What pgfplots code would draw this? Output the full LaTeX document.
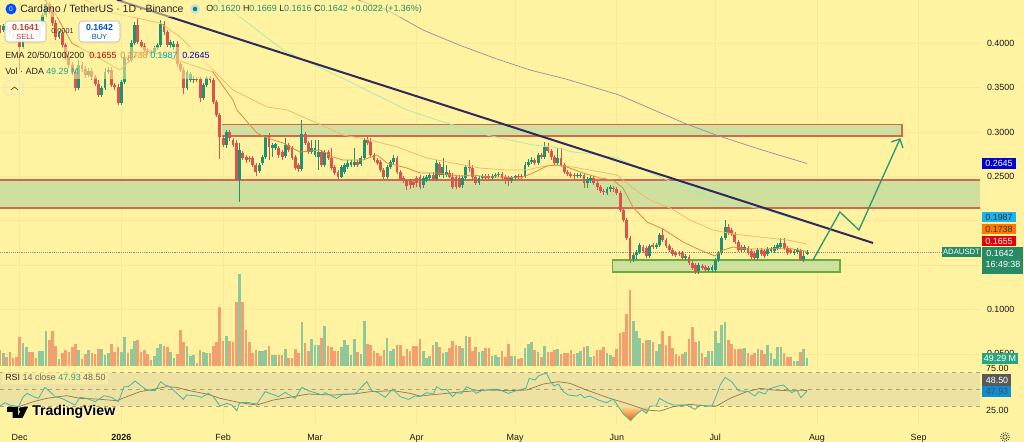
\documentclass[border=0pt]{standalone}
\usepackage{pgfplots}
\usepackage{pgfplotstable}
\usepackage{fontspec}
\setmainfont{Liberation Sans}
\pgfplotsset{compat=1.18}
\definecolor{bg}{HTML}{FFF2A0}
\definecolor{gridc}{HTML}{F6E99A}
\definecolor{zone}{HTML}{CFE09E}
\definecolor{zline}{HTML}{CF6A50}
\definecolor{boxg}{HTML}{63AE3C}
\definecolor{upc}{HTML}{1E9272}
\definecolor{dnc}{HTML}{D9544A}
\definecolor{upv}{HTML}{8FC89A}
\definecolor{dnv}{HTML}{F2A070}
\definecolor{ema1}{HTML}{E38A3C}
\definecolor{ema2}{HTML}{F0B868}
\definecolor{ema3}{HTML}{A8E8B8}
\definecolor{ema4}{HTML}{9A90A0}
\definecolor{trend}{HTML}{2E2A5E}
\definecolor{arrowc}{HTML}{2C9A70}
\definecolor{rsiband}{HTML}{EEE2A2}
\definecolor{rsidash}{HTML}{ACA27A}
\definecolor{rsil}{HTML}{45B8A0}
\definecolor{rsim}{HTML}{98784E}
\definecolor{tick}{HTML}{1A1A1A}
\newcommand\fa{\fontsize{6.7pt}{7.5pt}\selectfont}
\newcommand\fb{\fontsize{7.9pt}{9pt}\selectfont}
\pgfplotstableread{
d o h l c v
-6 .4173 .4207 .4117 .4151 103
-5 .4151 .4218 .4128 .4196 86
-4 .4196 .4218 .4128 .4151 60
-3 .4151 .4173 .4072 .4106 92
-2 .4106 .4128 .4038 .4072 49
-1 .4072 .4094 .4016 .4038 56
0 .4038 .4061 .3700 .3959 184
1 .3959 .4083 .3937 .4061 146
2 .4061 .4173 .4038 .4151 120
3 .4151 .4173 .4083 .4117 92
4 .4117 .4151 .4061 .4094 92
5 .4094 .4117 .4038 .4072 49
6 .4072 .4230 .4049 .4207 96
7 .4207 .4342 .4185 .4320 96
8 .4320 .4478 .4297 .4444 225
9 .4444 .4466 .4331 .4376 167
10 .4376 .4399 .4196 .4230 225
11 .4230 .4264 .4038 .4072 128
12 .4072 .4140 .4049 .4117 43
13 .4117 .4151 .3948 .3982 81
14 .3982 .4004 .3813 .3846 103
15 .3846 .3869 .3722 .3756 92
16 .3756 .3790 .3643 .3677 124
17 .3677 .3711 .3463 .3497 139
18 .3497 .3813 .3474 .3756 103
19 .3756 .3790 .3677 .3711 47
20 .3711 .3745 .3610 .3643 77
21 .3643 .3722 .3621 .3688 103
22 .3688 .3722 .3587 .3621 81
23 .3621 .3643 .3519 .3542 77
24 .3542 .3587 .3395 .3418 107
25 .3418 .3519 .3395 .3497 107
26 .3497 .3722 .3474 .3677 71
27 .3677 .3734 .3655 .3700 81
28 .3700 .3734 .3508 .3531 139
29 .3531 .3553 .3474 .3508 92
30 .3508 .3542 .3305 .3328 120
31 .3328 .3587 .3305 .3565 92
32 .3565 .3869 .3542 .3835 188
33 .3835 .3869 .3779 .3813 81
34 .3813 .4038 .3790 .4004 107
35 .4004 .4241 .3982 .4207 163
36 .4207 .4286 .3993 .4016 167
37 .4016 .4038 .3948 .3970 88
38 .3970 .4004 .3903 .3925 103
39 .3925 .3948 .3869 .3903 77
40 .3903 .3925 .3869 .3891 39
41 .3891 .3970 .3869 .3948 64
42 .3948 .4004 .3925 .3982 118
43 .3982 .4264 .3959 .4218 141
44 .4218 .4252 .4094 .4128 131
45 .4128 .4151 .3959 .3982 124
46 .3982 .4038 .3948 .4016 92
47 .3959 .4027 .3925 .3993 49
48 .3993 .4027 .3734 .3767 77
49 .3767 .3790 .3677 .3700 231
50 .3700 .3734 .3429 .3497 156
51 .3497 .3700 .3474 .3677 128
52 .3587 .3677 .3565 .3655 64
53 .3587 .3632 .3553 .3598 71
54 .3598 .3621 .3565 .3587 21
55 .3598 .3621 .3339 .3384 103
56 .3384 .3553 .3362 .3531 88
57 .3531 .3632 .3508 .3610 86
58 .3610 .3632 .3553 .3587 81
59 .3587 .3610 .3316 .3339 128
60 .3339 .3362 .3170 .3192 156
61 .3192 .3215 .2696 .2944 381
62 .2933 .2956 .2832 .2854 163
63 .2854 .3023 .2820 .3001 193
64 .3001 .3023 .2899 .2933 158
65 .2911 .2933 .2832 .2854 152
66 .2877 .2911 .2448 .2460 409
67 .2460 .2877 .2212 .2798 591
68 .2764 .2787 .2685 .2708 411
69 .2719 .2742 .2651 .2685 231
70 .2708 .2730 .2663 .2696 156
71 .2708 .2730 .2606 .2629 86
72 .2629 .2651 .2505 .2550 103
73 .2561 .2651 .2539 .2629 98
74 .2651 .2742 .2629 .2719 98
75 .2719 .2967 .2696 .2944 103
76 .2956 .2990 .2685 .2832 128
77 .2820 .2877 .2719 .2854 71
78 .2820 .2877 .2798 .2866 71
79 .2820 .2843 .2708 .2742 73
80 .2775 .2798 .2685 .2719 71
81 .2730 .2933 .2708 .2854 111
82 .2854 .2877 .2775 .2798 49
83 .2820 .2843 .2685 .2708 49
84 .2719 .2742 .2572 .2595 111
85 .2629 .2651 .2550 .2584 86
86 .2584 .3136 .2561 .2978 285
87 .2978 .3001 .2854 .2877 146
88 .2877 .2899 .2753 .2775 94
89 .2775 .2911 .2753 .2820 171
90 .2742 .2911 .2719 .2820 135
91 .2719 .2911 .2572 .2775 135
92 .2775 .2798 .2606 .2629 178
93 .2629 .2798 .2606 .2775 259
94 .2775 .2798 .2685 .2708 128
95 .2708 .2820 .2572 .2595 120
96 .2606 .2629 .2516 .2539 96
97 .2550 .2572 .2471 .2494 96
98 .2494 .2629 .2482 .2606 120
99 .2550 .2651 .2527 .2629 167
100 .2606 .2685 .2584 .2651 135
101 .2629 .2685 .2606 .2663 71
102 .2629 .2820 .2606 .2663 171
103 .2663 .2685 .2606 .2629 88
104 .2640 .2730 .2618 .2708 75
105 .2708 .2933 .2685 .2911 291
106 .2911 .2944 .2854 .2877 141
107 .2888 .2933 .2719 .2742 135
108 .2742 .2764 .2663 .2685 96
109 .2685 .2708 .2629 .2651 81
110 .2663 .2685 .2550 .2572 64
111 .2572 .2595 .2471 .2494 103
112 .2494 .2629 .2471 .2606 178
113 .2606 .2685 .2584 .2663 96
114 .2663 .2742 .2640 .2708 107
115 .2708 .2730 .2527 .2550 133
116 .2550 .2572 .2448 .2471 133
117 .2482 .2505 .2426 .2448 64
118 .2448 .2471 .2347 .2392 111
119 .2448 .2471 .2358 .2403 98
120 .2437 .2460 .2369 .2403 128
121 .2482 .2505 .2381 .2426 128
122 .2494 .2516 .2358 .2381 171
123 .2403 .2505 .2369 .2482 96
124 .2460 .2516 .2437 .2494 49
125 .2482 .2539 .2460 .2516 64
126 .2516 .2550 .2448 .2471 135
127 .2471 .2685 .2448 .2651 152
128 .2640 .2663 .2494 .2516 120
129 .2516 .2708 .2482 .2606 81
130 .2516 .2629 .2494 .2550 92
131 .2539 .2572 .2482 .2494 118
132 .2494 .2539 .2358 .2381 163
133 .2494 .2516 .2358 .2381 135
134 .2482 .2516 .2369 .2381 128
135 .2403 .2505 .2369 .2482 113
136 .2482 .2629 .2460 .2606 195
137 .2606 .2685 .2550 .2595 188
138 .2595 .2629 .2460 .2494 96
139 .2494 .2516 .2403 .2426 120
140 .2426 .2505 .2403 .2482 92
141 .2482 .2527 .2460 .2505 94
142 .2505 .2527 .2460 .2482 113
143 .2505 .2527 .2460 .2482 113
144 .2482 .2527 .2460 .2505 64
145 .2505 .2539 .2482 .2516 71
146 .2516 .2550 .2494 .2527 56
147 .2527 .2550 .2460 .2482 96
148 .2494 .2516 .2415 .2471 56
149 .2482 .2505 .2392 .2448 141
150 .2448 .2505 .2426 .2482 64
151 .2482 .2516 .2460 .2505 64
152 .2505 .2527 .2471 .2494 43
153 .2505 .2527 .2471 .2494 54
154 .2505 .2663 .2482 .2629 118
155 .2629 .2696 .2606 .2663 141
156 .2663 .2719 .2640 .2685 152
157 .2685 .2708 .2629 .2651 103
158 .2651 .2764 .2629 .2742 88
159 .2742 .2764 .2696 .2719 56
160 .2719 .2888 .2696 .2832 126
161 .2832 .2877 .2764 .2787 90
162 .2787 .2809 .2685 .2719 90
163 .2719 .2742 .2629 .2651 103
164 .2651 .2820 .2629 .2708 109
165 .2708 .2820 .2606 .2629 75
166 .2629 .2651 .2527 .2550 81
167 .2550 .2572 .2505 .2527 86
168 .2527 .2550 .2482 .2505 103
169 .2516 .2539 .2471 .2505 77
170 .2505 .2539 .2482 .2516 81
171 .2505 .2539 .2482 .2516 96
172 .2516 .2539 .2369 .2426 120
173 .2426 .2494 .2369 .2471 126
174 .2460 .2505 .2426 .2482 56
175 .2482 .2505 .2403 .2426 66
176 .2426 .2448 .2347 .2381 103
177 .2381 .2403 .2313 .2336 103
178 .2336 .2358 .2291 .2324 124
179 .2313 .2381 .2291 .2358 81
180 .2358 .2403 .2324 .2381 71
181 .2369 .2392 .2324 .2358 56
182 .2358 .2381 .2291 .2313 111
183 .2313 .2336 .2099 .2121 214
184 .2121 .2144 .1986 .2009 216
185 .2009 .2031 .1783 .1806 334
186 .1806 .1828 .1524 .1569 488
187 .1569 .1637 .1535 .1614 289
188 .1614 .1670 .1558 .1648 225
189 .1648 .1749 .1625 .1727 178
190 .1704 .1727 .1637 .1659 146
191 .1693 .1716 .1580 .1603 167
192 .1603 .1738 .1580 .1716 167
193 .1727 .1749 .1682 .1704 152
194 .1704 .1749 .1682 .1727 94
195 .1727 .1862 .1704 .1840 139
196 .1840 .1918 .1761 .1783 225
197 .1783 .1806 .1693 .1716 135
198 .1716 .1738 .1648 .1670 193
199 .1670 .1693 .1603 .1625 113
200 .1637 .1659 .1592 .1614 77
201 .1637 .1659 .1603 .1625 64
202 .1637 .1659 .1558 .1580 77
203 .1580 .1625 .1558 .1603 92
204 .1592 .1614 .1501 .1524 171
205 .1524 .1546 .1445 .1468 253
206 .1501 .1524 .1400 .1422 154
207 .1434 .1524 .1400 .1501 160
208 .1490 .1513 .1445 .1468 81
209 .1479 .1501 .1422 .1445 60
210 .1445 .1490 .1422 .1468 96
211 .1445 .1501 .1422 .1479 96
212 .1445 .1580 .1422 .1558 227
213 .1558 .1659 .1535 .1637 146
214 .1637 .1828 .1614 .1806 263
215 .1806 .2009 .1783 .1930 282
216 .1930 .1964 .1840 .1862 167
217 .1896 .1918 .1828 .1851 141
218 .1851 .1873 .1738 .1761 109
219 .1761 .1783 .1648 .1670 109
220 .1704 .1727 .1648 .1670 109
221 .1670 .1727 .1648 .1704 118
222 .1693 .1716 .1614 .1637 86
223 .1659 .1682 .1569 .1592 68
224 .1637 .1659 .1558 .1580 81
225 .1580 .1693 .1558 .1670 109
226 .1670 .1693 .1603 .1625 103
227 .1659 .1682 .1580 .1603 77
228 .1625 .1704 .1603 .1682 133
229 .1659 .1704 .1637 .1682 81
230 .1659 .1727 .1637 .1704 43
231 .1693 .1749 .1670 .1727 120
232 .1704 .1806 .1682 .1749 120
233 .1749 .1806 .1670 .1693 81
234 .1693 .1716 .1614 .1637 60
235 .1670 .1693 .1625 .1648 56
236 .1637 .1682 .1614 .1659 34
237 .1648 .1693 .1625 .1670 34
238 .1659 .1682 .1546 .1558 92
239 .1558 .1659 .1535 .1603 107
240 .1620 .1669 .1616 .1642 49.29
}\ada
\pgfplotstableread{
d r
-6 30
-4.5 34
-3 31.2
-0.4 29.2
1.1 41.2
2.3 45.2
4.2 41.2
5.7 39.2
7.7 52.4
9.2 47.2
10.8 41.2
12.8 39.2
14.8 35.2
16.9 31.2
18.4 40.4
20.4 39.2
23 35.2
25.7 42.4
28 40.4
30.1 35.2
31.8 53.2
33.1 53.2
35.2 60
36.7 55.2
38.7 49.2
41.3 48.4
43 59.2
44.3 55.2
45.8 53.2
47.9 45.2
49.9 38
50.9 43.2
53.5 42.4
55.5 40.4
57.5 45.2
59 41.2
61.1 30
63.1 33.2
64.6 31.2
66.2 24.4
67 34
69.2 34.4
72.3 32.4
74.8 47.2
76.8 44.4
78.9 41.2
80.9 46.4
83.9 39.2
86 52.4
88 48.4
90 46
92.1 43.2
93.1 46
96.6 39.2
98.7 44.4
102.2 44.4
104.3 53.2
105.8 59.2
107.3 48.4
109.3 46
111.4 40.4
113.7 50.4
116 41.2
118.5 38
120.5 42
122 41.2
124 46
126.1 44.4
127.1 53.2
128.6 49.2
130.1 50
131.9 41.2
133.2 46
134.7 45.2
136.2 53.2
137.8 50
139.1 45.2
140.8 48.4
143.8 50
145.9 50
148.9 45.2
152 49.2
154.3 51.2
155.3 63.2
157.1 61.2
158.1 66
159.6 68.4
160.6 69.2
161.8 59.2
162.9 54
164.2 56.4
165.7 47.2
167.2 43.2
169.8 42
171 44.4
172 40
173.8 42
176.4 37.2
178.9 34
180.9 38.4
182.5 29.2
184 20.4
186.2 12.4
188.1 20.4
189.6 25.2
191.1 21.2
192.1 30
194 30
195 39.2
197.2 34.4
199.2 31.2
201.3 31.2
203.3 31.2
205.8 26
207.4 31.2
209.4 30
211 30
212.4 43.2
213.5 55.2
215 64.4
217 59.2
219.1 48.4
222.1 47.2
224.1 42
225.2 47.2
227.2 44.4
228.2 50
231.2 54
232.8 55.2
235.3 46
236.8 49.2
238.1 40
240 47.93
}\rsidata
\pgfplotstableread{
d r
-0.4 29.2
4.2 35.2
8.2 39.2
11.8 41.2
14.3 42.4
18.4 39.2
23.5 38.4
29.6 36.4
32.6 41.2
36.7 47.2
40.7 50
44.8 53.2
47.9 52.4
50.9 49.2
57 44.4
61.1 39.2
67.2 34
72.3 31.2
77.3 37.2
83.4 41.2
88 44.4
95.6 43.2
101.7 44.4
106.8 47.2
113.9 48.4
119 45.2
122 42
128.1 44.4
135.2 47.2
142.3 49.2
149.4 48.4
154.5 49.2
159.6 56.4
164.2 59.2
167.7 57.2
172.8 49.2
179.9 39.2
185 33.2
191.1 25.2
195.2 24
199.2 29.2
204.3 32
209.4 30
212.4 30
216.5 39.2
221.6 47.2
225.7 51.2
229.7 49.2
233.8 48.4
240 48.5
}\rsima
\pgfplotsset{pane/.style={scale only axis,width=735pt,xmin=-6,xmax=292.7,
  axis line style={draw=none},tick style={draw=none},
  anchor=south west}}
\begin{document}
\begin{tikzpicture}
\useasboundingbox (0,0) rectangle (768pt,331.5pt);
\fill[bg] (0,0) rectangle (768pt,331.5pt);
% main price pane
\begin{axis}[pane,at={(0pt,12.75pt)},height=318.75pt,ymin=-0.0302,ymax=0.4489,
  xtick={0,31,62,90,121,151,182,212,243,274},
  xticklabels={Dec,\textbf{2026},Feb,Mar,Apr,May,Jun,Jul,Aug,Sep},
  xticklabel style={font=\fa,color=tick,anchor=center,yshift=-9.7pt,text height=4.9pt,text depth=1.4pt},
  ytick={0.05,0.1,0.15,0.2,0.25,0.3,0.35,0.4,0.45},
  yticklabels={0.0500,0.1000,{},{},0.2500,0.3000,0.3500,0.4000,0.4500},
  yticklabel pos=right,
  yticklabel style={font=\fa,color=tick,anchor=center,xshift=15.5pt},
  grid=major,major grid style={gridc,line width=0.5pt}]
\addplot[draw=none,fill=zone,forget plot] coordinates {(-6,0.2460)(293,0.2460)(293,0.2144)(-6,0.2144)} -- cycle;
\addplot[draw=none,fill=zone,forget plot] coordinates {(61.7,0.3086)(268.9,0.3086)(268.9,0.2956)(61.7,0.2956)} -- cycle;
\addplot[draw=zline,line width=0.9pt,forget plot] coordinates {(-6,0.2460)(293,0.2460)};
\addplot[draw=zline,line width=0.9pt,forget plot] coordinates {(-6,0.2144)(293,0.2144)};
\addplot[draw=zline,line width=0.9pt,forget plot] coordinates {(61.7,0.2956)(268.9,0.2956)(268.9,0.3086)(61.7,0.3086)};
\addplot[draw=boxg,line width=0.9pt,fill=zone,forget plot] coordinates {(180.8,0.1558)(250,0.1558)(250,0.1423)(180.8,0.1423)} -- cycle;
\addplot[densely dotted,color=black!45,line width=0.4pt,forget plot] coordinates {(-6,0.1642)(293,0.1642)};
% wicks
\addplot[draw=none,no marks,forget plot,error bars/.cd,y dir=both,y explicit,error mark=none,
  error bar style={color=upc,line width=0.6pt}]
  table[x=d,y expr={\thisrow{c}>=\thisrow{o}?\thisrow{c}:nan},
  y error plus expr={\thisrow{h}-\thisrow{c}},y error minus expr={\thisrow{c}-\thisrow{l}}] {\ada};
\addplot[draw=none,no marks,forget plot,error bars/.cd,y dir=both,y explicit,error mark=none,
  error bar style={color=dnc,line width=0.6pt}]
  table[x=d,y expr={\thisrow{c}<\thisrow{o}?\thisrow{c}:nan},
  y error plus expr={\thisrow{h}-\thisrow{c}},y error minus expr={\thisrow{c}-\thisrow{l}}] {\ada};
% bodies
\addplot[draw=none,no marks,forget plot,error bars/.cd,y dir=both,y explicit,error mark=none,
  error bar style={color=upc,line width=2.15pt}]
  table[x=d,y expr={\thisrow{c}>=\thisrow{o}?\thisrow{c}:nan},
  y error plus expr={0},y error minus expr={\thisrow{c}-\thisrow{o}}] {\ada};
\addplot[draw=none,no marks,forget plot,error bars/.cd,y dir=both,y explicit,error mark=none,
  error bar style={color=dnc,line width=2.15pt}]
  table[x=d,y expr={\thisrow{c}<\thisrow{o}?\thisrow{c}:nan},
  y error plus expr={\thisrow{o}-\thisrow{c}},y error minus expr={0}] {\ada};
% EMA 200
\addplot[color=ema4,line width=0.55pt,forget plot] coordinates {(103.1,0.4489)(112,0.4376)(122.9,0.4151)(133.9,0.3982)(144.6,0.3835)(155.5,0.3700)(166.5,0.3598)(182.7,0.3418)(202.5,0.3102)(212.2,0.2967)(226.3,0.2798)(240,0.2645)};
% EMA 100
\addplot[color=ema3,line width=0.55pt,forget plot] coordinates {(60.4,0.4489)(67.2,0.4297)(80.3,0.3925)(97.6,0.3621)(118,0.3249)(130.2,0.3102)(142.4,0.2967)(156.5,0.2854)(162.6,0.2832)(168.7,0.2775)(176.9,0.2742)(182.1,0.2708)(188.2,0.2606)(197.3,0.2460)(207.4,0.2313)(213.5,0.2212)(219.6,0.2178)(227.8,0.2121)(233.9,0.2043)(240,0.1987)};
% EMA 50
\addplot[color=ema2,line width=0.55pt,forget plot] coordinates {(19.9,0.4489)(28.4,0.4342)(42.8,0.4230)(48.9,0.4072)(58,0.3734)(65,0.3474)(75.4,0.3283)(81.5,0.3249)(90.6,0.3102)(98.5,0.2967)(106.8,0.2911)(115,0.2832)(124.1,0.2708)(132.1,0.2651)(140.3,0.2595)(148.5,0.2572)(154.6,0.2572)(158.6,0.2606)(162.6,0.2629)(168.7,0.2606)(176.9,0.2550)(182.1,0.2516)(186.9,0.2369)(192.1,0.2234)(198.2,0.2144)(204.3,0.2009)(211.3,0.1896)(217.4,0.1851)(225.6,0.1817)(233.9,0.1783)(240,0.1738)};
% EMA 20
\addplot[color=ema1,line width=0.6pt,forget plot] coordinates {(7.7,0.4489)(10.2,0.4376)(15.9,0.4004)(23.6,0.3846)(30.6,0.3700)(34.5,0.3835)(38.8,0.3925)(48,0.3813)(58.9,0.3677)(65,0.3362)(66.2,0.3249)(72.3,0.2990)(75.4,0.2933)(80.3,0.2877)(85.4,0.2775)(91.5,0.2798)(95.5,0.2719)(98.5,0.2685)(104.6,0.2685)(108.9,0.2742)(112,0.2651)(118,0.2595)(122,0.2539)(127.2,0.2539)(134.2,0.2505)(138.2,0.2516)(142.4,0.2494)(147.3,0.2494)(152.5,0.2482)(156.5,0.2539)(160.7,0.2618)(163.8,0.2629)(166.8,0.2606)(171.7,0.2539)(176.9,0.2482)(180.8,0.2460)(183.9,0.2369)(186.9,0.2155)(191.2,0.1986)(196.1,0.1907)(202.2,0.1761)(207.4,0.1670)(211.9,0.1603)(214.4,0.1670)(217.4,0.1704)(221.7,0.1682)(227.8,0.1682)(233.9,0.1693)(240,0.1655)};
% trend line and projected path
\addplot[color=trend,line width=1.5pt,forget plot] coordinates {(29.7,0.4489)(260.1,0.1750)};
\addplot[color=arrowc,line width=1pt,forget plot] coordinates {(241.8,0.1558)(250,0.2099)(255.8,0.1896)(268.3,0.2922)};
\addplot[color=arrowc,line width=1pt,forget plot] coordinates {(265.6,0.2888)(268.3,0.2922)(269.2,0.2821)};
\end{axis}
% volume pane
\begin{axis}[pane,at={(0pt,57pt)},height=72pt,ymin=0,ymax=616,xtick=\empty,ytick=\empty]
\addplot[ycomb,color=upv,line width=2pt,mark=none] table[x=d,y expr={\thisrow{c}>=\thisrow{o}?\thisrow{v}:nan}] {\ada};
\addplot[ycomb,color=dnv,line width=2pt,mark=none] table[x=d,y expr={\thisrow{c}<\thisrow{o}?\thisrow{v}:nan}] {\ada};
\end{axis}
% RSI pane
\begin{axis}[pane,at={(0pt,10.5pt)},height=58.5pt,ymin=3.65,ymax=97.2,xtick=\empty,
  ytick={25,75},yticklabel pos=right,
  yticklabel style={font=\fa,color=tick,anchor=center,xshift=13pt,
    /pgf/number format/.cd,fixed,fixed zerofill,precision=2,assume math mode=true}]
\addplot[draw=none,fill=rsiband,forget plot] coordinates {(-6,30)(292.7,30)(292.7,70)(-6,70)} -- cycle;
\addplot[dashed,color=rsidash,line width=0.45pt,forget plot] coordinates {(-6,70)(292.7,70)};
\addplot[dashed,color=rsidash,line width=0.45pt,forget plot] coordinates {(-6,50)(292.7,50)};
\addplot[dashed,color=rsidash,line width=0.45pt,forget plot] coordinates {(-6,30)(292.7,30)};
\addplot[draw=none,top color=rsiband,bottom color=orange!70!red,forget plot] coordinates {(182.4,30)(184,20.4)(186.2,12.4)(188.1,20.4)(189.6,25.2)(191.1,21.2)(192.1,30)} -- cycle;
\addplot[color=rsim,line width=0.55pt] table[x=d,y=r] {\rsima};
\addplot[color=rsil,line width=0.6pt] table[x=d,y=r] {\rsidata};
\end{axis}
% overlay text, placed in picture pixels
\begin{scope}[x=0.75pt,y=-0.75pt,yshift=331.5pt]
\tikzset{t/.style={anchor=west,inner sep=0pt},lab/.style={anchor=center,inner sep=0pt,font=\fa}}
% legend
\fill[bg,opacity=0.55] (2,1) rectangle (424,17);
\fill[bg,opacity=0.55] (2,47) rectangle (212,79);
\fill[blue!70!cyan] (11,9) circle (5.5);
\node[anchor=center,inner sep=0,text=white,font=\fontsize{5pt}{5pt}\selectfont] at (11,9) {0};
\node[t,font=\fb,text=black!85] at (20,9) {Cardano / TetherUS · 1D · Binance};
\fill[upc!25] (195,9) circle (5);\fill[upc!90!black] (195,9) circle (2.3);
\node[t,font=\fa,text=black!85] at (206,9) {O\textcolor{upc}{0.1620} H\textcolor{upc}{0.1669} L\textcolor{upc}{0.1616} C\textcolor{upc}{0.1642} \textcolor{upc}{+0.0022 (+1.36\%)}};
\filldraw[fill=white,draw=black!30,rounded corners=2.5pt,line width=0.4pt,fill opacity=0.92] (5,21) rectangle (46,42);
\filldraw[fill=white,draw=black!30,rounded corners=2.5pt,line width=0.4pt,fill opacity=0.92] (79,21) rectangle (120,42);
\node[lab,text=dnc!85!black,font=\fontsize{6.6pt}{7pt}\selectfont\bfseries] at (25.5,27) {0.1641};
\node[lab,text=dnc!85!black,font=\fontsize{5.6pt}{7pt}\selectfont] at (25.5,36.5) {SELL};
\node[lab,text=blue!60!cyan!80!black,font=\fontsize{6.6pt}{7pt}\selectfont\bfseries] at (99.5,27) {0.1642};
\node[lab,text=blue!60!cyan!80!black,font=\fontsize{5.6pt}{7pt}\selectfont] at (99.5,36.5) {BUY};
\node[lab,text=black!80,font=\fontsize{5.4pt}{7pt}\selectfont] at (62.5,31) {0.0001};
\node[t,font=\fa,text=black!85] at (5,55) {EMA 20/50/100/200};
\node[t,font=\fa,text=red!75!black] at (89,55) {0.1655};
\node[t,font=\fa,text=ema1] at (120,55) {0.1738};
\node[t,font=\fa,text=cyan!70!green] at (150,55) {0.1987};
\node[t,font=\fa,text=blue!70!black] at (182,55) {0.2645};
\node[t,font=\fa,text=black!85] at (5,71) {Vol · ADA};
\node[t,font=\fa,text=upc!80!cyan] at (46,71) {49.29 M};
\draw[black!12,rounded corners=1.5pt,line width=0.4pt] (5,81) rectangle (23,95);
\draw[black!70,line width=0.5pt] (11,90) -- (14.5,87) -- (18,90);
% right scale boxes
\fill[blue!85!black] (982,158) rectangle (1016,169);
\node[lab,text=white] at (999,163.5) {0.2645};
\fill[cyan!90!white] (982,212) rectangle (1016,222);
\node[lab,text=black!80] at (999,217) {0.1987};
\fill[orange!95!red] (982,224) rectangle (1016,234);
\node[lab,text=black!80] at (999,229) {0.1738};
\fill[red!90!black] (982,236) rectangle (1016,246);
\node[lab,text=white] at (999,241) {0.1655};
\fill[arrowc!90!black] (942,247) rectangle (981,257);
\node[lab,text=white,font=\fontsize{5.8pt}{7pt}\selectfont] at (961.5,252) {ADAUSDT};
\fill[arrowc!90!black] (982,247) rectangle (1023,274);
\node[lab,text=white] at (1000,253) {0.1642};
\node[lab,text=white] at (1003,264) {16:49:38};
\fill[arrowc!90!cyan] (982,353) rectangle (1018,364);
\node[lab,text=white] at (1000,358.5) {49.29 M};
\fill[black!65] (982,374) rectangle (1011,386);
\node[lab,text=white] at (997,380) {48.50};
\fill[cyan!75!blue] (982,386) rectangle (1011,397);
\node[lab,text=black!70] at (997,391.5) {47.93};
% gear
\draw[black!75,line width=0.5pt] (1005,437) circle (2.2);
\draw[black!75,line width=0.7pt,densely dotted] (1005,437) circle (4.4);
% RSI legend
\fill[bg,opacity=0.6] (2,371) rectangle (108,384);
\node[t,font=\fa,text=black!85] at (5,377) {RSI \textcolor{black!60}{14 close} \textcolor{rsil!85!black}{47.93} \textcolor{black!60}{48.50}};
% TradingView mark
\node[t,font=\fontsize{10.6pt}{12pt}\selectfont\bfseries,text=white] at (33,413) {TradingView};
\node[t,font=\fontsize{10.6pt}{12pt}\selectfont\bfseries,text=black] at (32,412) {TradingView};
\fill[black] (7,407) -- (18,407) -- (18,418) -- (12.5,418) -- (12.5,412) -- (7,412) -- cycle;
\fill[black] (21,409.3) circle (2.2);
\fill[black] (22.5,407) -- (28,407) -- (22.5,418) -- (17,418) -- cycle;
\end{scope}
\end{tikzpicture}
\end{document}
